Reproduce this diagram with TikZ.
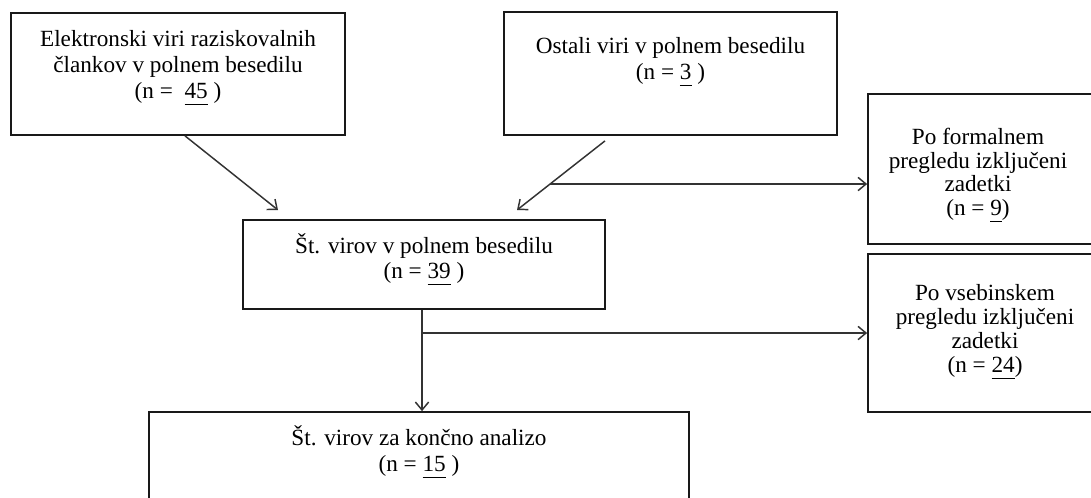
\documentclass[tikz,border=0pt]{standalone}
\usepackage{fontspec}
\setmainfont{Liberation Serif}
\usetikzlibrary{arrows.meta,fit,calc}
\newcommand{\podcrtaj}[1]{\underline{#1\rule[-3pt]{0pt}{0pt}}}

\begin{document}
\begin{tikzpicture}[x=0.75pt, y=-0.75pt,
okvir/.style={draw=black!90, line width=1.3pt, inner sep=0pt, fit={#1}},
napis/.style={align=center, anchor=base, inner sep=0pt, font=\fontsize{17.4pt}{#1}\selectfont},
puscica/.style={draw=black!80, line width=1.1pt, -{Straight Barb[length=6pt,width=10pt]}}
]
  \useasboundingbox (0,0) rectangle (1091,497);

  % okvirji
  \node[okvir={(11,13) (345,135)}] (elek) {};
  \node[okvir={(504,12) (837,135)}] (ostali) {};
  \node[okvir={(868,94) (1100,244)}] (formal) {};
  \node[okvir={(868,254) (1100,412)}] (vseb) {};
  \node[okvir={(243,220) (605,309)}] (polno) {};
  \node[okvir={(149,412) (689,520)}] (konc) {};

  % besedila (polozena po zadnji vrstici)
  \node[napis=19.5pt] (elektxt) at (178,98.3) {Elektronski viri raziskovalnih\\člankov v polnem besedilu\\(n = \ \podcrtaj{45} )};
  \node[napis=19.5pt] (ostalitxt) at (670.5,79) {Ostali viri v polnem besedilu\\(n = \podcrtaj{3} )};
  \node[napis=17.6pt] (formaltxt) at (978,215) {Po formalnem\\pregledu izključeni\\zadetki\\(n = \podcrtaj{9})};
  \node[napis=18pt] (vsebtxt) at (985,372.7) {Po vsebinskem\\pregledu izključeni\\zadetki\\(n = \podcrtaj{24})};
  \node[napis=18.75pt] (polnotxt) at (424,278.3) {Št. virov v polnem besedilu\\(n = \podcrtaj{39} )};
  \node[napis=20pt] (konctxt) at (419,471.7) {Št. virov za končno analizo\\(n = \podcrtaj{15} )};

  % puscice
  \coordinate (konecA) at (278,210);
  \coordinate (konecB) at (517,210);
  \coordinate (odcep1) at (550,184);
  \coordinate (odcep2) at (422,333);

  \draw[puscica] ($(elek.south)+(7,0)$) -- (konecA);
  \draw[puscica] ($(ostali.south)+(-65.5,5)$) -- (konecB);
  \draw[puscica] (odcep1) -- (odcep1 -| formal.west);
  \draw[puscica] (odcep2 |- polno.south) -- (odcep2 |- konc.north);
  \draw[puscica] (odcep2) -- (odcep2 -| vseb.west);
\end{tikzpicture}
\end{document}
